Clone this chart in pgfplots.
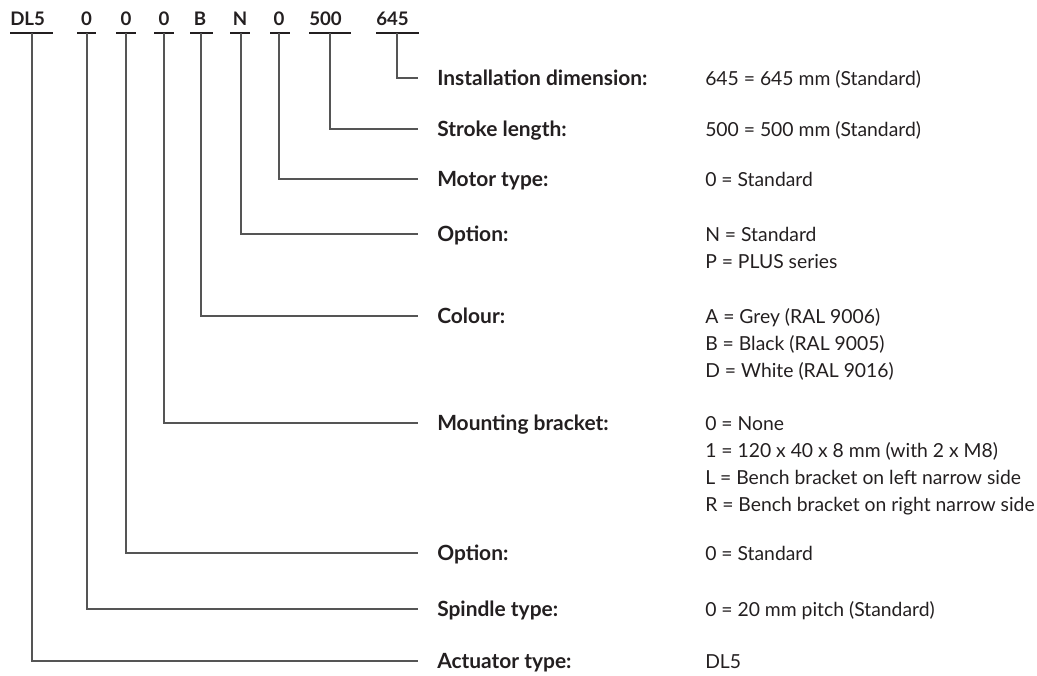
\documentclass[border=0pt]{standalone}
\usepackage{pgfplots}
\pgfplotsset{compat=1.18}
\usepackage{fontspec}
\setmainfont{Lato}
\definecolor{txt}{HTML}{231F20}
\definecolor{ln}{HTML}{555555}
\begin{document}
\begin{tikzpicture}
\begin{axis}[
  width=777.75pt, height=506.25pt, scale only axis,
  xmin=0, xmax=1037, ymin=0, ymax=675, y dir=reverse,
  hide axis, clip=false,
]
\coordinate (bl) at (rel axis cs:0,0);
\coordinate (tr) at (rel axis cs:1,1);
% underlines under code characters
\addplot[txt, line width=1.3pt] coordinates {(10,33) (53,33)};
\addplot[txt, line width=1.3pt] coordinates {(77,33) (96,33)};
\addplot[txt, line width=1.3pt] coordinates {(116,33) (136,33)};
\addplot[txt, line width=1.3pt] coordinates {(154,33) (174,33)};
\addplot[txt, line width=1.3pt] coordinates {(190,33) (213,33)};
\addplot[txt, line width=1.3pt] coordinates {(230,33) (250,33)};
\addplot[txt, line width=1.3pt] coordinates {(270,33) (290,33)};
\addplot[txt, line width=1.3pt] coordinates {(309,33) (351,33)};
\addplot[txt, line width=1.3pt] coordinates {(376,33) (419,33)};
% connectors
\addplot[ln, line width=0.8pt] coordinates {(397,33) (397,78) (418,78)};
\addplot[ln, line width=0.8pt] coordinates {(330,33) (330,129) (418,129)};
\addplot[ln, line width=0.8pt] coordinates {(279,33) (279,179) (418,179)};
\addplot[ln, line width=0.8pt] coordinates {(241,33) (241,234) (418,234)};
\addplot[ln, line width=0.8pt] coordinates {(201,33) (201,316) (418,316)};
\addplot[ln, line width=0.8pt] coordinates {(164,33) (164,423) (418,423)};
\addplot[ln, line width=0.8pt] coordinates {(126,33) (126,553) (418,553)};
\addplot[ln, line width=0.8pt] coordinates {(87,33) (87,609) (418,609)};
\addplot[ln, line width=0.8pt] coordinates {(32,33) (32,661) (418,661)};
% code characters
\begin{scope}[every node/.style={anchor=base, inner sep=0pt, text=txt, font=\bfseries\fontsize{14}{16}\selectfont}]
\node[anchor=base west] at (axis cs:10,25) {DL5};
\node at (axis cs:86.5,25) {0};
\node at (axis cs:126,25) {0};
\node at (axis cs:164,25) {0};
\node at (axis cs:200,25) {B};
\node at (axis cs:240,25) {N};
\node at (axis cs:279,25) {0};
\node[anchor=base west] at (axis cs:309,25) {500};
\node[anchor=base west] at (axis cs:376,25) {645};
\end{scope}
% labels
\begin{scope}[every node/.style={anchor=base west, inner sep=0pt, text=txt, font=\bfseries\fontsize{15.7}{18}\selectfont}]
\node at (axis cs:437,85.5) {Installation dimension:};
\node at (axis cs:437,136.5) {Stroke length:};
\node at (axis cs:437,186.5) {Motor type:};
\node at (axis cs:437,241.5) {Option:};
\node at (axis cs:437,323.5) {Colour:};
\node at (axis cs:437,430.5) {Mounting bracket:};
\node at (axis cs:437,560.5) {Option:};
\node at (axis cs:437,616.5) {Spindle type:};
\node at (axis cs:437,668.5) {Actuator type:};
\end{scope}
% values
\begin{scope}[every node/.style={anchor=base west, inner sep=0pt, text=txt, font=\fontsize{14.5}{18}\selectfont}]
\node at (axis cs:705,85) {645 = 645 mm (Standard)};
\node at (axis cs:705,136) {500 = 500 mm (Standard)};
\node at (axis cs:705,186) {0 = Standard};
\node at (axis cs:705,241) {N = Standard};
\node at (axis cs:705,268) {P = PLUS series};
\node at (axis cs:705,323) {A = Grey (RAL 9006)};
\node at (axis cs:705,350) {B = Black (RAL 9005)};
\node at (axis cs:705,377) {D = White (RAL 9016)};
\node at (axis cs:705,430) {0 = None};
\node at (axis cs:705,457) {1 = 120 x 40 x 8 mm (with 2 x M8)};
\node at (axis cs:705,484) {L = Bench bracket on left narrow side};
\node at (axis cs:705,511) {R = Bench bracket on right narrow side};
\node at (axis cs:705,560) {0 = Standard};
\node at (axis cs:705,616) {0 = 20 mm pitch (Standard)};
\node at (axis cs:705,668) {DL5};
\end{scope}
\end{axis}
\pgfresetboundingbox
\path (bl) rectangle (tr);
\end{tikzpicture}
\end{document}
